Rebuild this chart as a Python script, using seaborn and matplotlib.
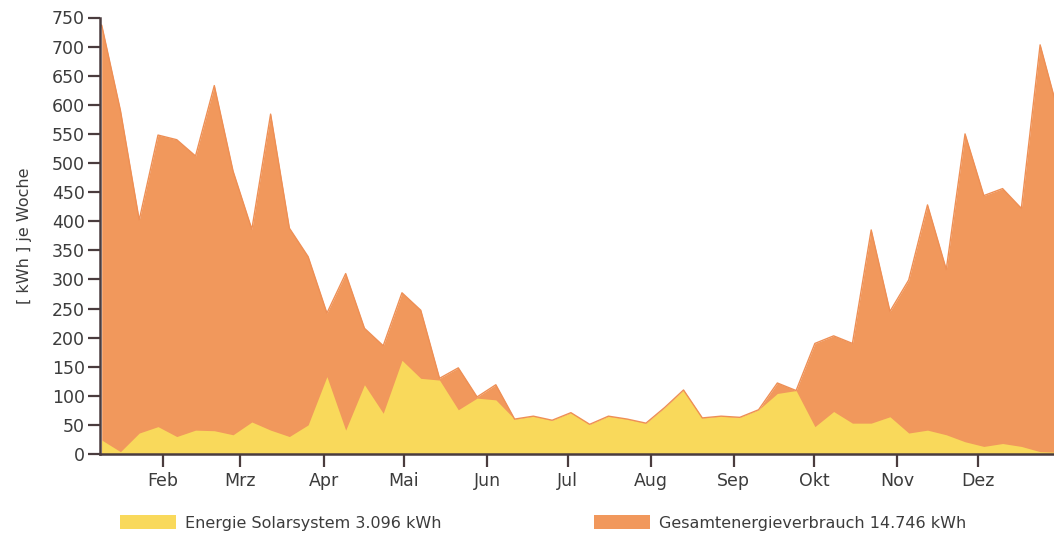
import numpy as np
import matplotlib
matplotlib.use("Agg")
import matplotlib.pyplot as plt
from matplotlib.patches import Patch
import seaborn as sns

# weekly values [kWh]
weeks = np.arange(52)
gesamt = [737, 590, 402, 548, 540, 512, 633, 486, 386, 584,
          388, 339, 242, 310, 216, 186, 277, 247, 130, 148,
          98, 119, 60, 65, 58, 71, 51, 65, 60, 53,
          80, 110, 62, 65, 63, 76, 122, 109, 190, 203,
          190, 385, 245, 299, 428, 317, 550, 444, 456, 422,
          703, 583]
solar = [24, 4, 36, 47, 30, 41, 40, 33, 55, 41,
         30, 50, 133, 41, 119, 70, 161, 130, 127, 76,
         96, 93, 60, 65, 58, 71, 51, 65, 60, 53,
         80, 110, 62, 65, 63, 76, 104, 109, 47, 73,
         53, 53, 64, 36, 41, 33, 21, 13, 18, 13,
         4, 3]

months = ["Feb", "Mrz", "Apr", "Mai", "Jun", "Jul", "Aug", "Sep", "Okt", "Nov", "Dez"]
month_start_doy = [31, 60, 91, 121, 152, 182, 213, 244, 274, 305, 335]

label_solar = "Energie Solarsystem 3.096 kWh"
label_gesamt = "Gesamtenergieverbrauch 14.746 kWh"

c_orange = "#F1985C"
c_yellow = "#F9D95B"
c_axis = "#4a3c3e"
c_text = "#3c3c3c"

sns.set_theme(style="white")
plt.rcParams['font.family'] = ['DejaVu Sans']

fig = plt.figure(figsize=(10.54, 5.37), dpi=100)
ax = fig.add_axes([100 / 1054, 83 / 537, 954 / 1054, (454 - 17.5) / 537])

ax.fill_between(weeks, 0, gesamt, color=c_orange, linewidth=0)
sns.lineplot(x=weeks, y=gesamt, ax=ax, color="#EE8F55", linewidth=1.0)
ax.fill_between(weeks, 0, solar, color=c_yellow, linewidth=0)

ax.set_xlim(-0.09, 50.74)
ax.set_ylim(0, 750)

# month ticks (week position of month start)
tick_pos = [(d - 8.25) / 7 for d in month_start_doy]
ax.set_xticks(tick_pos)
ax.set_xticklabels(months)
ax.set_yticks(np.arange(0, 751, 50))

for s in ["top", "right"]:
    ax.spines[s].set_visible(False)
for s in ["left", "bottom"]:
    ax.spines[s].set_color(c_axis)
    ax.spines[s].set_linewidth(1.8)

ax.tick_params(axis="both", which="major", direction="out", length=9, width=1.6,
               color=c_axis, labelcolor=c_text, labelsize=12.5, pad=2,
               bottom=True, left=True)
ax.tick_params(axis="x", pad=4)

ax.set_ylabel("[ kWh ] je Woche", fontsize=11.5, color=c_text, labelpad=14)

handles = [Patch(facecolor=c_yellow, edgecolor="none", label=label_solar),
           Patch(facecolor=c_orange, edgecolor="none", label=label_gesamt)]
fig.legend(handles=handles, loc="center left", bbox_to_anchor=(112 / 1054, 1 - 523 / 537),
           ncol=2, frameon=False, fontsize=11.5, handlelength=3.5, handleheight=0.9,
           handletextpad=0.6, columnspacing=9.5, borderpad=0, labelcolor=c_text)

fig.savefig("out.png", dpi=100)
